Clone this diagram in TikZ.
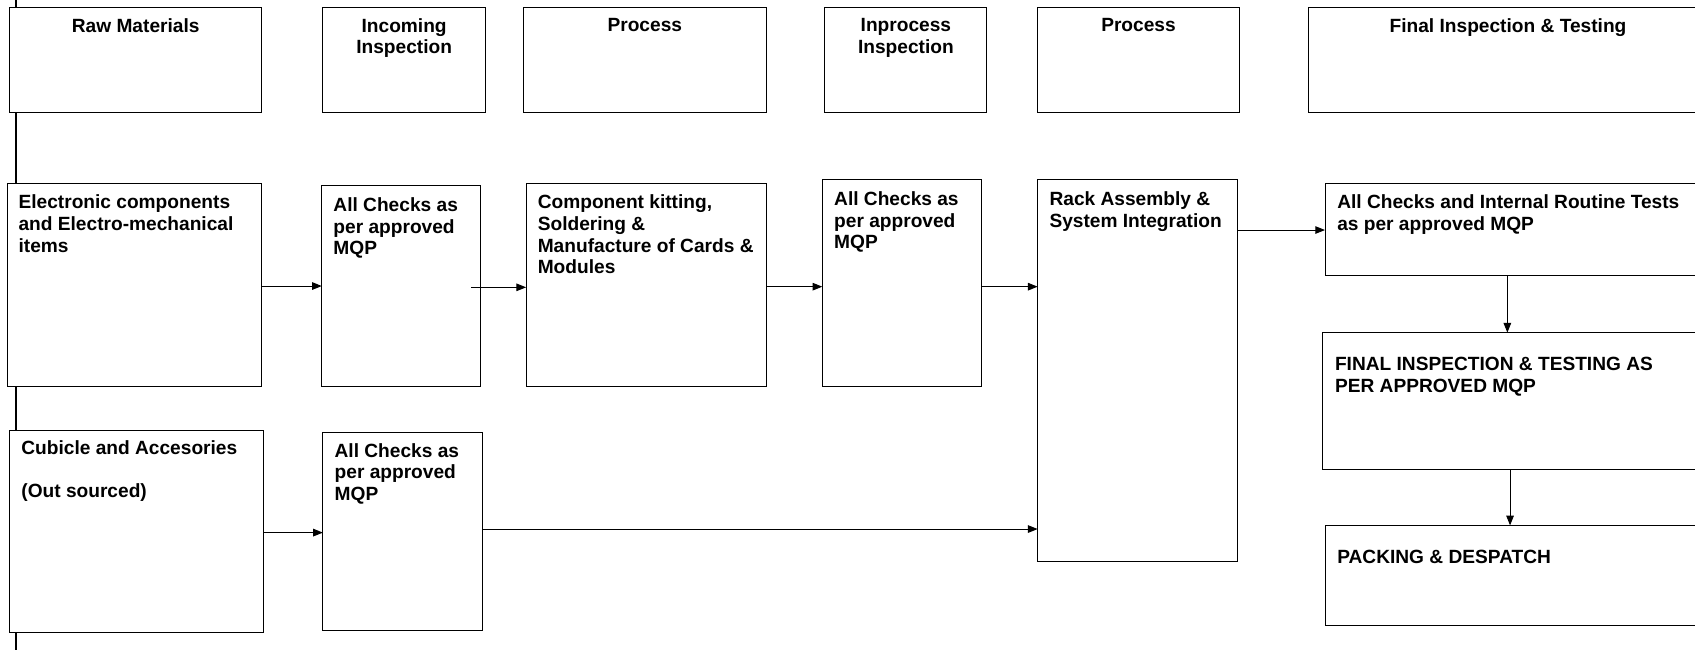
\documentclass[tikz,border=0pt]{standalone}
\usepackage{fontspec}
\setmainfont{Liberation Sans}
\usetikzlibrary{arrows.meta}
\begin{document}
\begin{tikzpicture}[x=1pt,y=-1pt,
  box/.style={draw=black, fill=white, line width=0.9pt, rectangle, inner sep=0pt, outer sep=0pt, anchor=north west},
  txt/.style={inner sep=0pt, outer sep=0pt, align=left, anchor=north west, font=\fontsize{17.7}{20}\selectfont\bfseries},
  htxt/.style={inner sep=0pt, outer sep=0pt, align=center, anchor=north, font=\fontsize{17.7}{20}\selectfont\bfseries},
  arr/.style={line width=0.9pt, -{Triangle[length=9pt,width=7pt]}},
  spine/.style={line width=1.8pt}]
\useasboundingbox (0,0) rectangle (1568,601);
\clip (0,0) rectangle (1568,601);
\fill[white] (0,0) rectangle (1568,601);
\draw[spine] (15.2,0) -- (15.2,601);
% header row
\node[box, minimum width=233.3pt, minimum height=96.5pt] (hraw) at (8.9,7.1) {};
\node[box, minimum width=150.3pt, minimum height=96.5pt] (hinc) at (298.7,7.1) {};
\node[box, minimum width=225pt, minimum height=96.6pt] (hproca) at (484,7) {};
\node[box, minimum width=150pt, minimum height=96.6pt] (hinp) at (763,7) {};
\node[box, minimum width=187.4pt, minimum height=97.1pt] (hprocb) at (959.5,6.8) {};
\node[box, minimum width=370pt, minimum height=96.6pt] (hfin) at (1210,7) {};
\node[htxt] (hrawt) at ([yshift=-10pt]hraw.north) {Raw Materials};
\node[htxt] (hinct) at ([yshift=-10pt]hinc.north) {Incoming\\Inspection};
\node[htxt] (hprocat) at ([yshift=-10pt]hproca.north) {Process};
\node[htxt] (hinpt) at ([yshift=-10pt]hinp.north) {Inprocess\\Inspection};
\node[htxt] (hprocbt) at ([yshift=-10pt]hprocb.north) {Process};
\node[htxt] (hfint) at ([yshift=-10pt]hfin.north) {Final Inspection \& Testing};
% flow boxes
\node[box, minimum width=235.6pt, minimum height=188.1pt] (elec) at (6.6,169.6) {};
\node[box, minimum width=146.7pt, minimum height=185.7pt] (acone) at (297.7,172) {};
\node[box, minimum width=222.5pt, minimum height=188.1pt] (comp) at (486.7,169.6) {};
\node[box, minimum width=147.1pt, minimum height=191.2pt] (actwo) at (760.7,166.5) {};
\node[box, minimum width=184.7pt, minimum height=352.5pt] (rack) at (959.9,166.5) {};
\node[box, minimum width=360pt, minimum height=85.4pt] (acint) at (1225.7,169.6) {};
\node[box, minimum width=362pt, minimum height=126.2pt] (final) at (1223.6,307.7) {};
\node[box, minimum width=360pt, minimum height=92.2pt] (pack) at (1225.7,486) {};
\node[box, minimum width=234.6pt, minimum height=187.5pt] (cub) at (8.9,397.8) {};
\node[box, minimum width=148pt, minimum height=183.4pt] (acthree) at (298.7,400) {};
% texts
\node[txt] (elect) at ([xshift=10.6pt,yshift=-10.8pt]elec.north west) {Electronic components\\and Electro-mechanical\\items};
\node[txt] (aconet) at ([xshift=10.8pt,yshift=-10.8pt]acone.north west) {All Checks as\\per approved\\MQP};
\node[txt] (compt) at ([xshift=10.8pt,yshift=-10.8pt]comp.north west) {Component kitting,\\Soldering \&\\Manufacture of Cards \&\\Modules};
\node[txt] (actwot) at ([xshift=11pt,yshift=-10.8pt]actwo.north west) {All Checks as\\per approved\\MQP};
\node[txt] (rackt) at ([xshift=11pt,yshift=-10.8pt]rack.north west) {Rack Assembly \&\\System Integration};
\node[txt] (acintt) at ([xshift=11.4pt,yshift=-10.8pt]acint.north west) {All Checks and Internal Routine Tests\\as per approved MQP};
\node[txt] (finalt) at ([xshift=11.4pt,yshift=-22.9pt]final.north west) {FINAL INSPECTION \& TESTING AS\\PER APPROVED MQP};
\node[txt] (packt) at ([xshift=11.4pt,yshift=-22.8pt]pack.north west) {PACKING \& DESPATCH};
\node[txt] (cubt) at ([xshift=10.9pt,yshift=-10pt]cub.north west) {Cubicle and Accesories\\[20pt](Out sourced)};
\node[txt] (acthreet) at ([xshift=10.9pt,yshift=-10pt]acthree.north west) {All Checks as\\per approved\\MQP};
% connectors
\coordinate (aconeout) at (436.1,265.8);
\draw[arr] (elec.east |- 0,264.6) -- (acone.west |- 0,264.6);
\draw[arr] (aconeout) -- (comp.west |- aconeout);
\draw[arr] (comp.east |- 0,265.2) -- (actwo.west |- 0,265.2);
\draw[arr] (actwo.east |- 0,265.2) -- (rack.west |- 0,265.2);
\draw[arr] (rack.east |- 0,212.8) -- (acint.west |- 0,212.8);
\draw[arr] (acint.south -| 1394.4,0) -- (final.north -| 1394.4,0);
\draw[arr] (final.south -| 1396.9,0) -- (pack.north -| 1396.9,0);
\draw[arr] (cub.east |- 0,492.7) -- (acthree.west |- 0,492.7);
\draw[arr] (acthree.east |- 0,489.4) -- (rack.west |- 0,489.4);
\end{tikzpicture}
\end{document}
